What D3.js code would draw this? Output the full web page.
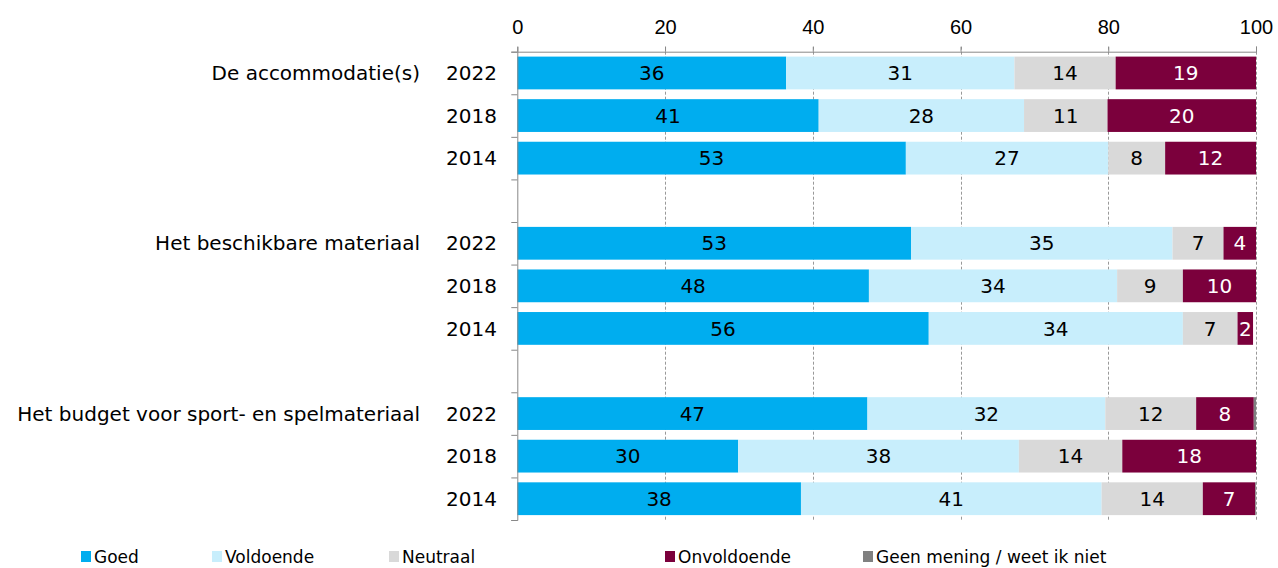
<!doctype html>
<html lang="nl-nl">
<head>
	<meta charset="UTF-8">
	<title>stacked bars | d3</title>
	<style>
		body { margin: 0; background: #fff; }
		svg { display: block; font-family: "DejaVu Sans", sans-serif; }
		.tick-label { font-size: 20px; fill: #000; }
		.cat-label, .year-label { font-size: 20px; fill: #000; }
		.bar-label { font-size: 20px; }
		.legend-label { font-size: 17px; fill: #000; }
	</style>
</head>
<body>
	<script src="https://cdn.jsdelivr.net/npm/d3@7"></script>
	<script>
		var categories = ['De accommodatie(s)', 'Het beschikbare materiaal', 'Het budget voor sport- en spelmateriaal'],
			years = ['2022', '2018', '2014'],
			seriesNames = ['Goed', 'Voldoende', 'Neutraal', 'Onvoldoende', 'Geen mening / weet ik niet'],
			xTicks = [0, 20, 40, 60, 80, 100];

		// one value per bar: accommodatie 2022/2018/2014, materiaal ..., budget ...
		var goed        = [36.4, 40.8, 52.6, 53.3, 47.6, 55.7, 47.4, 29.9, 38.4],
			voldoende   = [30.9, 27.8, 27.4, 35.4, 33.6, 34.4, 32.2, 38.0, 40.7],
			neutraal    = [13.7, 11.3,  7.7,  6.9,  8.9,  7.4, 12.3, 14.0, 13.7],
			onvoldoende = [19.0, 20.1, 12.3,  4.4,  9.9,  2.1,  7.8, 18.1,  7.1],
			geenMening  = [ 0,    0,    0,    0,    0,    0,    0.3,  0,    0.1];

		var colors = ['#00adef', '#c8eefc', '#d9d9d9', '#7b003c', '#808080'],
			labelColors = ['#000', '#000', '#000', '#fff', '#fff'];

		var w = 1278,
			h = 568,
			plotLeft = 517.3,
			plotRight = 1256,
			plotTop = 51.7,
			plotBottom = 520;

		var svg = d3.select('body')
			.append('svg')
			.attr('width', w)
			.attr('height', h);

		// build rows: three years per category, an empty slot between groups
		var rows = [],
			slots = [];
		categories.forEach(function(c, ci) {
			years.forEach(function(y, yi) {
				var i = ci * years.length + yi;
				rows.push({
					key: ci + '-' + y,
					cat: c,
					year: y,
					first: yi === 0,
					Goed: goed[i],
					Voldoende: voldoende[i],
					Neutraal: neutraal[i],
					Onvoldoende: onvoldoende[i],
					'Geen mening / weet ik niet': geenMening[i]
				});
				slots.push(ci + '-' + y);
			});
			if (ci < categories.length - 1) slots.push('gap' + ci);
		});

		var xScale = d3.scaleLinear()
			.domain([0, 100])
			.range([plotLeft, plotRight]);

		var yScale = d3.scaleBand()
			.domain(slots)
			.range([plotTop, plotBottom])
			.paddingInner(0.23)
			.paddingOuter(0.115);

		var slotScale = d3.scaleLinear()
			.domain([0, slots.length])
			.range([plotTop, plotBottom]);

		// gridlines
		svg.append('g')
			.selectAll('line')
			.data(xTicks.slice(1))
			.enter()
			.append('line')
			.attr('x1', function(d) { return Math.round(xScale(d)) + 0.5; })
			.attr('x2', function(d) { return Math.round(xScale(d)) + 0.5; })
			.attr('y1', plotTop - 5)
			.attr('y2', plotBottom)
			.attr('stroke', '#999')
			.attr('stroke-dasharray', '3,2');

		// bars
		var stack = d3.stack().keys(seriesNames);
		var stacked = stack(rows);

		var layers = svg.append('g')
			.selectAll('g')
			.data(stacked)
			.enter()
			.append('g')
			.attr('fill', function(d, i) { return colors[i]; });

		layers.selectAll('rect')
			.data(function(d) { return d; })
			.enter()
			.append('rect')
			.attr('x', function(d) { return xScale(d[0]); })
			.attr('y', function(d) { return yScale(d.data.key); })
			.attr('width', function(d) { return xScale(d[1]) - xScale(d[0]); })
			.attr('height', yScale.bandwidth());

		// value labels
		layers.each(function(layer, li) {
			d3.select(this).selectAll('text')
				.data(layer.filter(function(d) { return d[1] - d[0] >= 1.5; }))
				.enter()
				.append('text')
				.attr('class', 'bar-label')
				.attr('x', function(d) { return xScale((d[0] + d[1]) / 2); })
				.attr('y', function(d) { return yScale(d.data.key) + yScale.bandwidth() / 2; })
				.attr('dy', '0.36em')
				.attr('text-anchor', 'middle')
				.attr('fill', labelColors[li])
				.text(function(d) { return Math.round(d[1] - d[0]); });
		});

		// top axis
		var xAxis = svg.append('g')
			.attr('transform', 'translate(0,' + plotTop + ')')
			.call(d3.axisTop(xScale).tickValues(xTicks).tickSize(5).tickPadding(13));
		xAxis.select('.domain').attr('stroke', '#888');
		xAxis.selectAll('.tick line').attr('stroke', '#888');
		xAxis.selectAll('.tick text')
			.attr('class', 'tick-label')
			.attr('font-family', null)
			.attr('font-size', null);

		// left axis with ticks on slot boundaries
		var yAxis = svg.append('g')
			.attr('transform', 'translate(' + plotLeft + ',0)')
			.call(d3.axisLeft(slotScale).ticks(slots.length).tickSize(6).tickFormat(''));
		yAxis.select('.domain').attr('stroke', '#888');
		yAxis.selectAll('.tick line').attr('stroke', '#888');

		// year labels and category labels
		svg.append('g')
			.selectAll('text')
			.data(rows)
			.enter()
			.append('text')
			.attr('class', 'year-label')
			.attr('x', 497)
			.attr('y', function(d) { return yScale(d.key) + yScale.bandwidth() / 2; })
			.attr('dy', '0.36em')
			.attr('text-anchor', 'end')
			.text(function(d) { return d.year; });

		svg.append('g')
			.selectAll('text')
			.data(rows.filter(function(d) { return d.first; }))
			.enter()
			.append('text')
			.attr('class', 'cat-label')
			.attr('x', 420)
			.attr('y', function(d) { return yScale(d.key) + yScale.bandwidth() / 2; })
			.attr('dy', '0.36em')
			.attr('text-anchor', 'end')
			.text(function(d) { return d.cat; });

		// legend
		var legendX = [81, 212, 389, 665, 863];
		var legend = svg.append('g')
			.selectAll('g')
			.data(seriesNames)
			.enter()
			.append('g')
			.attr('transform', function(d, i) { return 'translate(' + legendX[i] + ',551)'; });

		legend.append('rect')
			.attr('width', 10)
			.attr('height', 11)
			.attr('fill', function(d, i) { return colors[i]; });

		legend.append('text')
			.attr('class', 'legend-label')
			.attr('x', 13)
			.attr('y', 11.5)
			.text(function(d) { return d; });
	</script>
</body>
</html>
